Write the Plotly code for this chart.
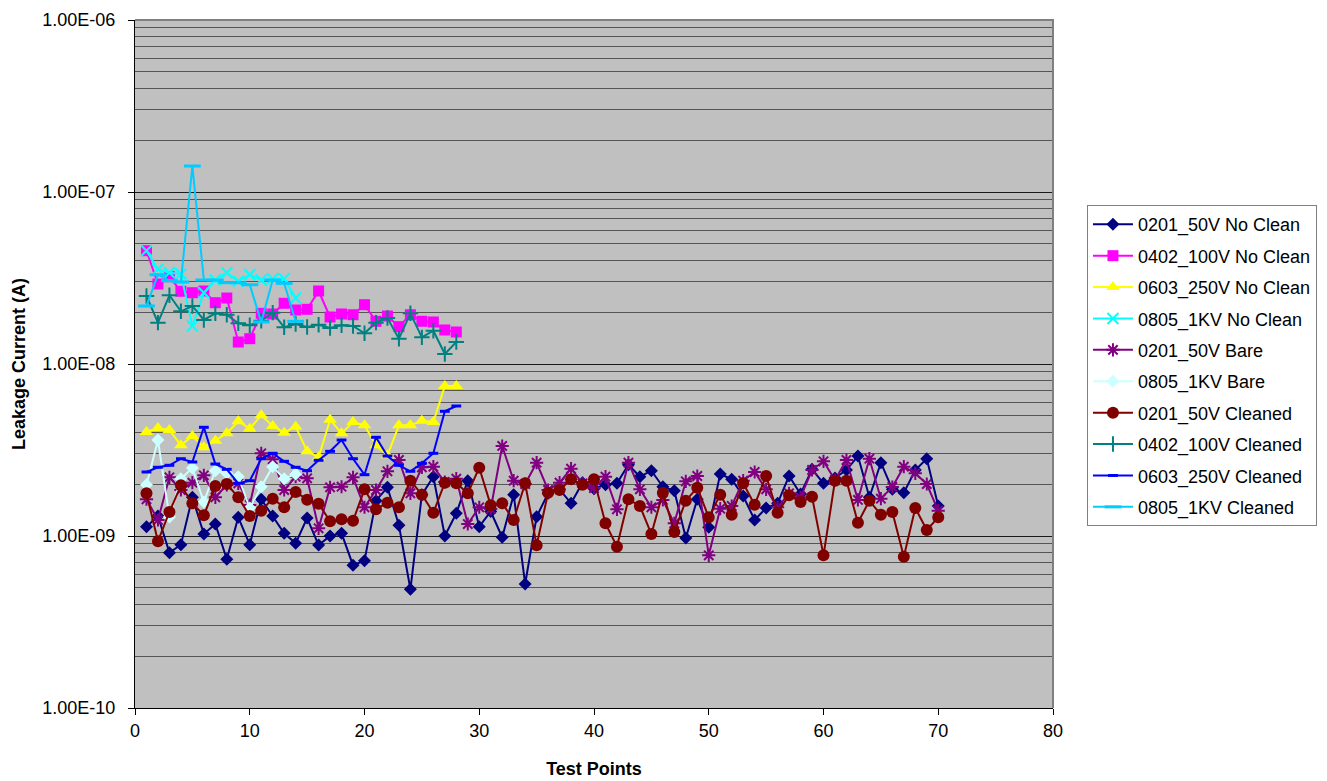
import plotly.graph_objects as go

x70 = list(range(1, 71))
x28 = list(range(1, 29))
x14 = list(range(1, 15))

nc0201 = [1.133, 1.307, 0.800, 0.890, 1.679, 1.027, 1.174, 0.732, 1.284, 0.890,
          1.635, 1.307, 1.037, 0.907, 1.272, 0.886, 1.000, 1.037, 0.675, 0.719,
          1.604, 1.919, 1.154, 0.490, 1.739, 2.212, 1.000, 1.355, 2.097, 1.133,
          1.388, 0.983, 1.739, 0.526, 1.295, 1.771, 1.868, 1.549, 2.042, 1.884,
          1.988, 2.025, 2.597, 2.212, 2.397, 1.934, 1.834, 0.974, 1.635, 1.123,
          2.294, 2.136, 1.708, 1.239, 1.455, 1.549, 2.233, 1.755, 2.442, 2.025,
          2.174, 2.419, 2.918, 1.679, 2.668, 1.868, 1.785, 2.419, 2.814, 1.494]
nc0402 = [4.557, 2.918, 3.218, 2.647, 2.597, 2.657, 2.272, 2.419, 1.342, 1.403,
          1.971, 1.953, 2.254, 2.060, 2.080, 2.657, 1.876, 1.953, 1.934, 2.212,
          1.771, 1.901, 1.648, 1.934, 1.771, 1.755, 1.577, 1.535]
nc0603 = [4.025, 4.246, 4.133, 3.368, 3.815, 3.279, 3.581, 3.955, 4.644, 4.206,
          5.032, 4.360, 3.987, 4.320, 3.107, 2.868, 4.745, 3.955, 4.600, 4.401,
          3.368, 2.945, 4.401, 4.401, 4.681, 4.600, 7.450, 7.450]
nc0805 = [4.557, 3.553, 3.394, 3.337, 1.663, 2.597, 3.078, 3.394, 3.026, 3.305,
          3.078, 3.132, 3.132, 2.419]
bare0201 = [1.635, 1.239, 2.194, 1.851, 2.042, 2.254, 1.679, 1.979, 2.025, 1.514,
            3.026, 2.792, 1.851, 2.212, 2.165, 1.108, 1.919, 1.934, 2.194, 1.469,
            1.851, 2.378, 2.766, 1.771, 2.509, 2.529, 2.060, 2.154, 1.174, 1.469,
            1.435, 3.337, 2.097, 2.006, 2.668, 1.851, 2.042, 2.462, 2.025, 1.901,
            2.212, 1.429, 2.668, 1.868, 1.469, 1.620, 1.185, 2.080, 2.233, 0.772,
            1.441, 1.494, 2.097, 2.356, 1.868, 1.469, 1.771, 1.679, 2.419, 2.718,
            2.116, 2.766, 1.620, 2.814, 1.648, 1.927, 2.529, 2.315, 2.006, 1.403]
bare0805 = [1.988, 3.614, 1.290, 2.154, 2.485, 1.577, 2.397, 2.315, 2.212, 1.455,
            1.934, 2.529, 2.154, 2.294]
cl0201 = [1.771, 0.932, 1.379, 1.971, 1.549, 1.319, 1.953, 2.006, 1.679, 1.307,
          1.403, 1.648, 1.469, 1.803, 1.626, 1.541, 1.218, 1.251, 1.227, 1.868,
          1.429, 1.562, 1.469, 2.097, 1.739, 1.366, 2.042, 2.025, 1.771, 2.495,
          1.508, 1.549, 1.239, 2.025, 0.883, 1.785, 1.851, 2.136, 1.988, 2.136,
          1.185, 0.867, 1.635, 1.494, 1.027, 1.785, 1.055, 1.604, 1.909, 1.284,
          1.739, 1.330, 2.025, 1.521, 2.233, 1.366, 1.724, 1.577, 1.692, 0.772,
          2.097, 2.097, 1.195, 1.604, 1.330, 1.379, 0.758, 1.455, 1.084, 1.284]
cl0402 = [2.485, 1.739, 2.509, 2.025, 2.174, 1.803, 1.971, 1.934, 1.724, 1.679,
          1.785, 1.988, 1.635, 1.708, 1.641, 1.692, 1.620, 1.679, 1.663, 1.508,
          1.739, 1.851, 1.403, 1.971, 1.429, 1.562, 1.143, 1.342]
cl0603 = [2.356, 2.509, 2.577, 2.814, 2.693, 4.285, 2.622, 2.442, 2.025, 2.097,
          2.814, 3.026, 2.718, 2.509, 2.397, 2.755, 3.107, 3.614, 2.814, 2.272,
          3.748, 2.918, 2.577, 2.378, 2.647, 3.026, 5.309, 5.700]
cl0805 = [2.174, 3.305, 3.050, 2.997, 14.16, 3.078, 3.078, 2.969, 2.969, 2.891,
          1.755, 3.078, 2.945, 1.771]

# scale factors (values above given in these units)
E9 = 1e-9
E8 = 1e-8

series = [
    ("0201_50V No Clean", x70, [v * E9 for v in nc0201], "#000080", "diamond", 10, None),
    ("0402_100V No Clean", x28, [v * E8 for v in nc0402], "#FF00FF", "square", 11, None),
    ("0603_250V No Clean", x28, [v * E9 for v in nc0603], "#FFFF00", "triangle-up", 12, None),
    ("0805_1KV No Clean", x14, [v * E8 for v in nc0805], "#00FFFF", "x-thin", 11, 2),
    ("0201_50V Bare", x70, [v * E9 for v in bare0201], "#800080", "asterisk", 11, 2),
    ("0805_1KV Bare", x14, [v * E9 for v in bare0805], "#CCFFFF", "diamond", 10, None),
    ("0201_50V Cleaned", x70, [v * E9 for v in cl0201], "#800000", "circle", 12, None),
    ("0402_100V Cleaned", x28, [v * E8 for v in cl0402], "#008080", "cross-thin", 11, 2),
    ("0603_250V Cleaned", x28, [v * E9 for v in cl0603], "#0000FF", "line-ew", 7, 3),
    ("0805_1KV Cleaned", x14, [v * E8 for v in cl0805], "#00CCFF", "line-ew", 12, 3),
]

fig = go.Figure()
for i, (name, xs, ys, col, sym, size, lw) in enumerate(series):
    marker = dict(symbol=sym, size=size, color=col)
    if lw is not None:
        marker["line"] = dict(color=col, width=lw)
    fig.add_trace(go.Scatter(
        x=xs, y=ys, name=name, mode="lines+markers",
        line=dict(color=col, width=2), marker=marker,
        legendgroup=f"g{i}",
    ))

tickvals = [1e-10, 1e-9, 1e-8, 1e-7, 1e-6]
ticktext = ["1.00E-10", "1.00E-09", "1.00E-08", "1.00E-07", "1.00E-06"]

font = "Liberation Sans, Arial, sans-serif"
fig.update_layout(
    width=1327, height=781,
    margin=dict(l=127, r=282, t=12, b=81, autoexpand=False),
    paper_bgcolor="white", plot_bgcolor="#C0C0C0",
    font=dict(family=font, size=18, color="black"),
    showlegend=True,
    legend=dict(
        x=1.037, y=0.731, xanchor="left", yanchor="top",
        bordercolor="#808080", borderwidth=1, bgcolor="white",
        font=dict(size=18), tracegroupgap=5, itemwidth=40,
        traceorder="grouped",
    ),
    xaxis=dict(
        range=[0, 80], dtick=10, tick0=0, showgrid=False, zeroline=False,
        showline=True, linecolor="black", linewidth=1, automargin=False,
        ticks="outside", ticklen=6, tickcolor="black",
        title=dict(text="<b>Test Points</b>", standoff=22, font=dict(size=18)),
    ),
    yaxis=dict(
        type="log", range=[-10, -6],
        tickvals=tickvals, ticktext=ticktext, automargin=False,
        ticklabelstandoff=9,
        showgrid=True, gridcolor="#1a1a1a", gridwidth=1,
        minor=dict(dtick="D1", showgrid=True, gridcolor="#555555", gridwidth=1, ticks=""),
        showline=True, linecolor="black", linewidth=1,
        ticks="outside", ticklen=6, tickcolor="black",
        zeroline=False,
        title=dict(text="<b>Leakage Current (A)</b>", standoff=12, font=dict(size=18)),
    ),
    shapes=[dict(type="path", xref="paper", yref="paper",
                 path="M 0 1 L 1 1 L 1 0", line=dict(color="#808080", width=2))],
)

fig.write_html("out.html")
